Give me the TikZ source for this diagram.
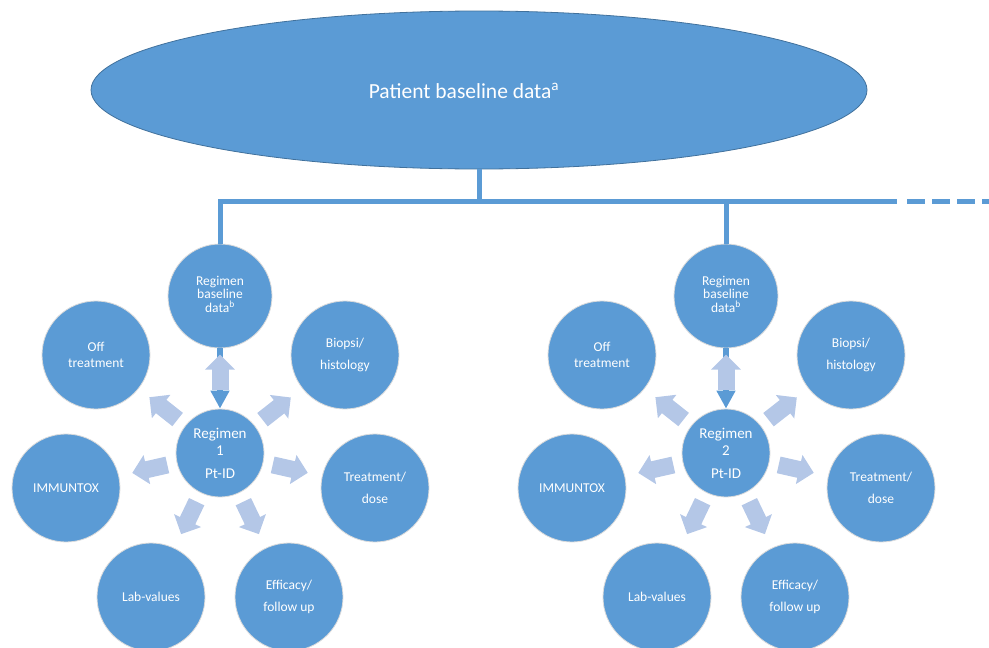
\documentclass[tikz,border=0pt]{standalone}
\usepackage{fontspec}
\setmainfont{Carlito}
\usetikzlibrary{arrows.meta,calc,shapes.geometric}
\definecolor{fillblue}{RGB}{91,155,213}
\definecolor{edgeblue}{RGB}{65,113,156}
\definecolor{lightblue}{RGB}{180,199,231}
\newcommand\mygroup[2]{%
\begin{scope}[xshift=#1]
\node[basebub] (b#2) at (220,-296) {Regimen\\baseline\\data\textsuperscript{b}\\[-10pt]\mbox{}};
\node[centerbub] (r#2) at (220,-453) {Regimen\\#2\\[6pt]Pt-ID};
\node[outerbub] (o#2) at (96,-355) {Off\\treatment};
\node[outerbub] (bi#2) at (345,-355) {Biopsi/\\[6pt]histology};
\node[outerbub] (im#2) at (66,-488) {IMMUNTOX};
\node[outerbub] (tr#2) at (375,-488) {Treatment/\\[6pt]dose};
\node[outerbub] (lab#2) at (151,-597) {Lab-values};
\node[outerbub] (ef#2) at (289,-597) {Efficacy/\\[6pt]follow up};
\draw[darkarr] (b#2.south) -- (r#2.north);
\draw[lightarr] ($(r#2.north)+(0,19)$) -- ($(r#2.north)+(0,54)$);
\foreach \t in {o,bi,im,tr,lab,ef}{\draw[lightarr] ($(r#2)!54pt!(\t#2)$) -- ($(r#2)!90pt!(\t#2)$);}
\end{scope}}
\begin{document}
\begin{tikzpicture}[x=1pt,y=1pt,
  bubble/.style={circle, fill=fillblue, draw=white!86!black, line width=0.8pt, text=white, align=center, inner sep=0pt},
  outerbub/.style={bubble, minimum size=108pt, font=\fontsize{13.5}{16}\selectfont},
  centerbub/.style={bubble, minimum size=88pt, font=\fontsize{15}{17}\selectfont},
  basebub/.style={bubble, minimum size=104pt, font=\fontsize{13.5}{13.5}\selectfont},
  conn/.style={draw=fillblue, line width=5pt},
  darkarr/.style={draw=fillblue, line width=6pt, -{Triangle[width=18pt,length=18pt]}},
  lightarr/.style={draw=lightblue, line width=17pt, -{Triangle[width=29pt,length=15pt]}},
]
\useasboundingbox (0,0) rectangle (989,-648);
\node[ellipse, fill=fillblue, draw=edgeblue, line width=0.8pt, minimum width=776pt, minimum height=158pt, inner sep=0pt] (pat) at (479,-90) {};
\node[text=white, font=\fontsize{21.5}{24}\selectfont, inner sep=0pt] (pattext) at (464,-91) {Patient baseline data\textsuperscript{a}};
\coordinate (j0) at (479,-201);
\coordinate (solidend) at (897,-201);
\coordinate (dashstart) at (907,-201);
\coordinate (dashend) at (992,-201);
\mygroup{0pt}{1}
\mygroup{506pt}{2}
\draw[conn] (pat.south) -- (j0);
\draw[conn] (b1.north) |- (solidend);
\draw[conn] (b2.north) -- (b2.north |- j0);
\draw[conn, dash pattern=on 18pt off 7pt] (dashstart) -- (dashend);
\end{tikzpicture}
\end{document}
